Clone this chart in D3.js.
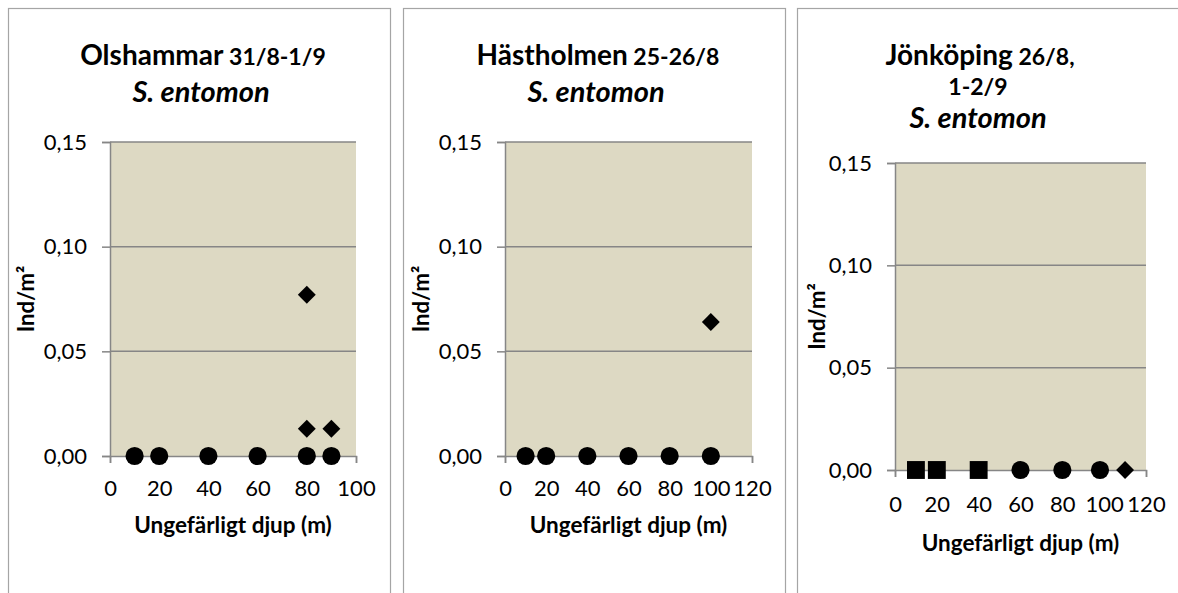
<!DOCTYPE html>
<html>
<head>
<meta charset="utf-8">
<script src="https://cdn.jsdelivr.net/npm/d3@7"></script>
<style>
  body { margin: 0; background: #fff; }
  text { font-family: Lato, "Liberation Sans", sans-serif; fill: #000; }
</style>
</head>
<body>
<svg width="1178" height="593"></svg>
<script>
// values (depth in m, density in ind/m2)
var olsCircleX = [10, 20, 40, 60, 80, 90];
var olsCircleY = [0, 0, 0, 0, 0, 0];
var olsDiamondX = [80, 80, 90];
var olsDiamondY = [0.077, 0.013, 0.013];

var hasCircleX = [10, 20, 40, 60, 80, 100];
var hasCircleY = [0, 0, 0, 0, 0, 0];
var hasDiamondX = [100];
var hasDiamondY = [0.064];

var jonSquareX = [10, 20, 40];
var jonSquareY = [0, 0, 0];
var jonCircleX = [60, 80, 98];
var jonCircleY = [0, 0, 0];
var jonDiamondX = [110];
var jonDiamondY = [0];

var yTicks = [0, 0.05, 0.10, 0.15];
var olsXTicks = [0, 20, 40, 60, 80, 100];
var wideXTicks = [0, 20, 40, 60, 80, 100, 120];

var titleMain = ["Olshammar", "Hästholmen", "Jönköping"];
var titleDate = [" 31/8-1/9", " 25-26/8", " 26/8,"];
var species = "S. entomon";
var xTitle = "Ungefärligt djup (m)";
var yTitle = "Ind/m²";

function pts(xs, ys) { return xs.map(function(x, i) { return {x: x, y: ys[i]}; }); }

// layout of the three panels
var panels = [
  {frame: [8, 390], plot: [110, 356, 142, 456], xmax: 100, xticks: olsXTicks,
   tx: 203, ty: [65, 102], extraLine: null, ylx: 27,
   circles: pts(olsCircleX, olsCircleY), diamonds: pts(olsDiamondX, olsDiamondY), squares: []},
  {frame: [403, 785], plot: [505, 752, 142, 456], xmax: 120, xticks: wideXTicks,
   tx: 598, ty: [65, 102], extraLine: null, ylx: 422,
   circles: pts(hasCircleX, hasCircleY), diamonds: pts(hasDiamondX, hasDiamondY), squares: []},
  {frame: [797, 1240], plot: [895, 1146, 163, 470], xmax: 120, xticks: wideXTicks,
   tx: 980, ty: [65, 128], extraLine: {text: "1-2/9", y: 95}, ylx: 818,
   circles: pts(jonCircleX, jonCircleY), diamonds: pts(jonDiamondX, jonDiamondY), squares: pts(jonSquareX, jonSquareY)}
];

var svg = d3.select("svg");
var gridColor = "#868686";

panels.forEach(function(p, k) {
  var g = svg.append("g");
  // chart frame
  g.append("rect")
    .attr("x", p.frame[0] + 0.5).attr("y", 8.5)
    .attr("width", p.frame[1] - p.frame[0]).attr("height", 620)
    .attr("fill", "#fff").attr("stroke", "#a5a5a5").attr("stroke-width", 1.2);

  var x = d3.scaleLinear().domain([0, p.xmax]).range([p.plot[0], p.plot[1]]);
  var y = d3.scaleLinear().domain([0, 0.15]).range([p.plot[3], p.plot[2]]);

  g.append("rect")
    .attr("x", x(0)).attr("y", y(0.15))
    .attr("width", x(p.xmax) - x(0)).attr("height", y(0) - y(0.15))
    .attr("fill", "#ddd9c3");

  // gridlines
  g.selectAll(".grid").data(yTicks.slice(1)).enter().append("line")
    .attr("x1", x(0)).attr("x2", x(p.xmax))
    .attr("y1", function(d) { return y(d); }).attr("y2", function(d) { return y(d); })
    .attr("stroke", gridColor).attr("stroke-width", 1.5);

  var yAxis = g.append("g").attr("transform", "translate(" + x(0) + ",0)")
    .call(d3.axisLeft(y).tickValues(yTicks).tickSize(8).tickPadding(15)
      .tickFormat(function(d) { return d3.format(".2f")(d).replace(".", ","); }));
  var xAxis = g.append("g").attr("transform", "translate(0," + y(0) + ")")
    .call(d3.axisBottom(x).tickValues(p.xticks).tickSize(7).tickPadding(k == 2 ? 19 : 17)
      .tickFormat(d3.format("d")));
  [xAxis, yAxis].forEach(function(a) {
    a.select(".domain").attr("stroke", gridColor).attr("stroke-width", 1.5);
    a.selectAll(".tick line").attr("stroke", gridColor).attr("stroke-width", 1.5);
    a.selectAll(".tick text").attr("font-size", 22).attr("font-family", "Lato").attr("fill", "#000");
  });

  // markers
  g.selectAll(".sq").data(p.squares).enter().append("path")
    .attr("d", d3.symbol().type(d3.symbolSquare).size(320)())
    .attr("transform", function(d) { return "translate(" + x(d.x) + "," + y(d.y) + ")"; });
  g.selectAll(".ci").data(p.circles).enter().append("path")
    .attr("d", d3.symbol().type(d3.symbolCircle).size(260)())
    .attr("transform", function(d) { return "translate(" + x(d.x) + "," + y(d.y) + ")"; });
  g.selectAll(".di").data(p.diamonds).enter().append("path")
    .attr("d", d3.symbol().type(d3.symbolSquare).size(160)())
    .attr("transform", function(d) { return "translate(" + x(d.x) + "," + y(d.y) + ") rotate(45)"; });

  // titles
  var t1 = g.append("text").attr("x", p.tx).attr("y", p.ty[0])
    .attr("text-anchor", "middle").attr("font-weight", "bold");
  t1.append("tspan").attr("font-size", 28).text(titleMain[k]);
  t1.append("tspan").attr("font-size", 23).text(titleDate[k]);
  if (p.extraLine) {
    g.append("text").attr("x", p.tx - 2).attr("y", p.extraLine.y)
      .attr("text-anchor", "middle").attr("font-weight", "bold").attr("font-size", 23)
      .text(p.extraLine.text);
  }
  g.append("text").attr("x", p.tx - 2).attr("y", p.ty[1])
    .attr("text-anchor", "middle").attr("font-weight", "bold").attr("font-style", "italic")
    .attr("font-size", 29).text(species);

  g.append("text")
    .attr("x", (x(0) + x(p.xmax)) / 2).attr("y", y(0) + 77 + (k == 2 ? 4 : 0))
    .attr("text-anchor", "middle").attr("font-weight", "bold").attr("font-size", 22.5)
    .text(xTitle);
  g.append("text")
    .attr("transform", "translate(" + (p.ylx + 7) + "," + ((y(0) + y(0.15)) / 2) + ") rotate(-90)")
    .attr("text-anchor", "middle").attr("font-weight", "bold").attr("font-size", 22)
    .text(yTitle);
});
</script>
</body>
</html>
